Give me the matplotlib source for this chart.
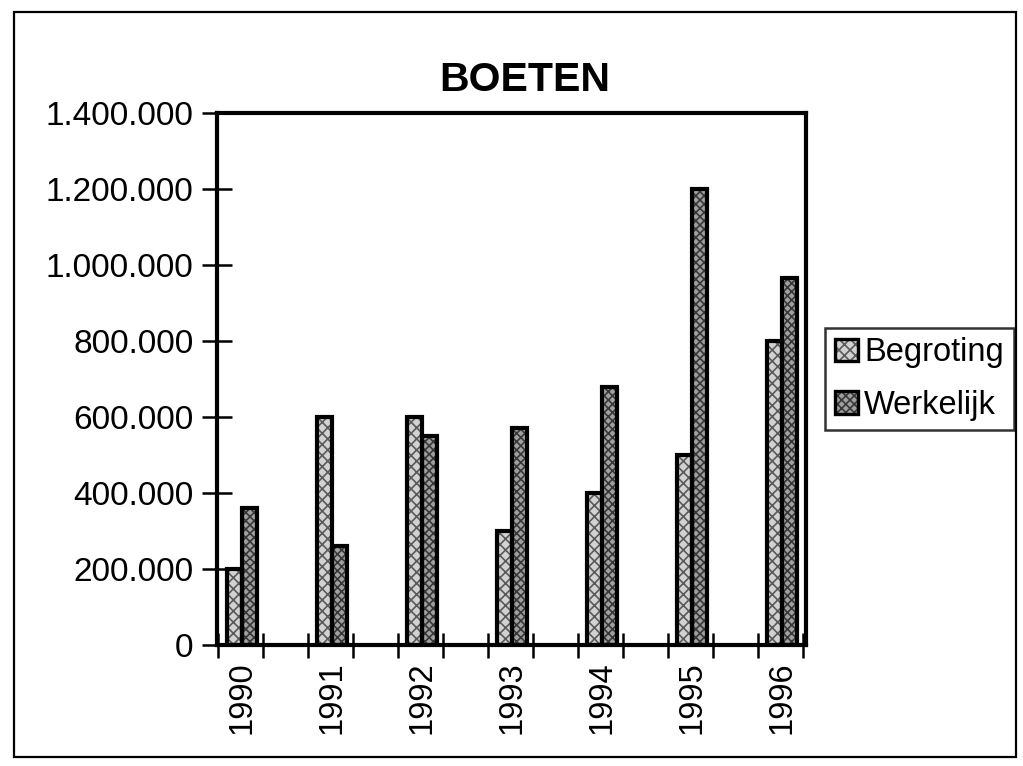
import numpy as np
import matplotlib.pyplot as plt
from matplotlib.patches import Rectangle, Patch
from matplotlib.ticker import FuncFormatter

jaren = ['1990', '1991', '1992', '1993', '1994', '1995', '1996']
begroting = [200000, 600000, 600000, 300000, 400000, 500000, 800000]
werkelijk = [360000, 260000, 550000, 570000, 680000, 1200000, 965000]

plt.rcParams['font.family'] = ['Liberation Sans', 'DejaVu Sans']
plt.rcParams['hatch.linewidth'] = 1.2


def punt_formaat(v, pos):
    # Dutch thousands separator
    return f"{int(v):,}".replace(',', '.')


fig = plt.figure(figsize=(10.23, 7.66), dpi=100)
ax = fig.add_axes([217 / 1023, 1 - 645 / 766, 589 / 1023, 532 / 766])

x = np.arange(len(jaren))
w = 0.167
kleur_b, arc_b = '#d2d2d2', '#5a5a5a'
kleur_w, arc_w = '#a0a0a0', '#383838'
for waarden, dx, vul, arcering, patroon in [
        (begroting, -w / 2, kleur_b, arc_b, 'xxx'),
        (werkelijk, w / 2, kleur_w, arc_w, 'xxxx')]:
    ax.bar(x + dx, waarden, w, color=vul, edgecolor=arcering, hatch=patroon,
           linewidth=0, zorder=2)
    ax.bar(x + dx, waarden, w, fill=False, edgecolor='black', linewidth=3,
           zorder=3)

ax.set_xlim(-0.274, 6.27)
ax.set_ylim(0, 1400000)
ax.set_yticks(np.arange(0, 1400001, 200000))
ax.yaxis.set_major_formatter(FuncFormatter(punt_formaat))
ax.set_xticks(x, jaren, rotation=90)
ax.set_xticks(np.arange(-0.26, 6.3, 0.5), minor=True)

ax.tick_params(axis='y', direction='inout', length=22, width=1.8,
               labelsize=24, pad=6)
ax.tick_params(axis='x', which='major', length=0, labelsize=23.5, pad=12)
ax.tick_params(axis='x', which='minor', direction='inout', length=18, width=1.8)
for s in ax.spines.values():
    s.set_linewidth(3)

fig.text(525 / 1023, 1 - 80 / 766, 'BOETEN', ha='center', va='center',
         fontsize=29.5, fontweight='bold')

handles = [
    (Patch(facecolor=kleur_b, edgecolor=arc_b, hatch='xxx', linewidth=0),
     Patch(fill=False, edgecolor='black', linewidth=2.4)),
    (Patch(facecolor=kleur_w, edgecolor=arc_w, hatch='xxxx', linewidth=0),
     Patch(fill=False, edgecolor='black', linewidth=2.4)),
]
leg = fig.legend(handles, ['Begroting', 'Werkelijk'], loc='center left',
                 bbox_to_anchor=(825 / 1023, 1 - 379 / 766), fontsize=23.5,
                 frameon=True, fancybox=False, handlelength=0.7,
                 handleheight=0.7, handletextpad=0.2, labelspacing=0.65,
                 borderpad=0.3, borderaxespad=0)
leg.get_frame().set_edgecolor('black')
leg.get_frame().set_linewidth(1.8)

# outer border round the whole chart
fig.patches.append(Rectangle((14 / 1023, 1 - 757 / 766), 1002 / 1023,
                             745 / 766, transform=fig.transFigure,
                             fill=False, edgecolor='black', linewidth=1.6))

fig.savefig('out.png', dpi=100)
